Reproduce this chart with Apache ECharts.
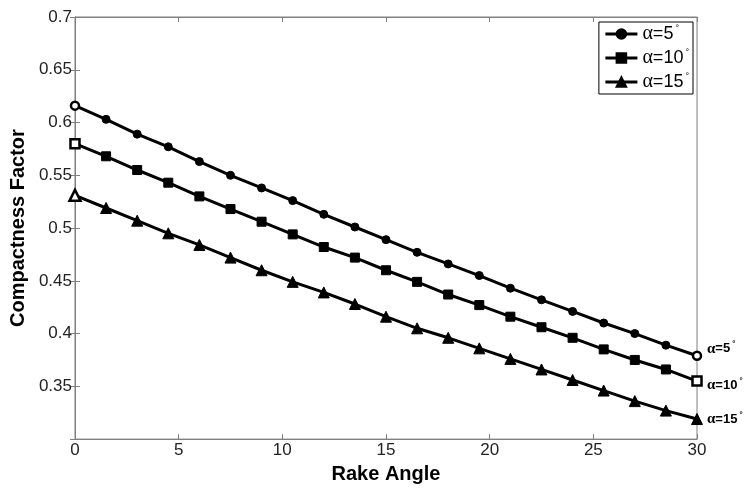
<!DOCTYPE html>
<html><head><meta charset="utf-8">
<script src="https://cdn.jsdelivr.net/npm/echarts@6/dist/echarts.min.js"></script>
<style>html,body{margin:0;padding:0;background:#fff}#c{width:744px;height:489px}</style>
</head><body><div id="c"></div>
<script>
const rakeAngles = [0,1.5,3,4.5,6,7.5,9,10.5,12,13.5,15,16.5,18,19.5,21,22.5,24,25.5,27,28.5,30];
const alpha5  = [0.616,0.603,0.589,0.577,0.563,0.550,0.538,0.526,0.513,0.501,0.489,0.477,0.466,0.455,0.443,0.432,0.421,0.410,0.400,0.389,0.379];
const alpha10 = [0.580,0.568,0.555,0.543,0.530,0.518,0.506,0.494,0.482,0.472,0.460,0.449,0.437,0.427,0.416,0.406,0.396,0.385,0.375,0.366,0.355];
const alpha15 = [0.531,0.519,0.507,0.495,0.484,0.472,0.460,0.449,0.439,0.428,0.416,0.405,0.396,0.386,0.376,0.366,0.356,0.346,0.336,0.327,0.319];
const seriesNames = ['α=5°','α=10°','α=15°'];
const xTicks = [0,5,10,15,20,25,30];
const yTicks = [0.35,0.4,0.45,0.5,0.55,0.6,0.65,0.7];

const font = 'Liberation Sans, Arial, sans-serif';
const serif = 'Liberation Serif, Times New Roman, serif';
const chart = echarts.init(document.getElementById('c'));
const symbols = ['circle','rect','triangle'];
const sizes = [8,9,11];
const allData = [alpha5, alpha10, alpha15];
const endNames = ['5','10','15'];
const endOffsets = [[0,-7],[0,4],[0,0]];
const hollowIdx = [[0,20],[0,20],[0]];

const series = allData.map((d,k)=>({
  name: seriesNames[k],
  type:'line',
  data: rakeAngles.map((x,i)=>{
    const hollow = hollowIdx[k].includes(i);
    return hollow ? {value:[x,d[i]], itemStyle:{color:'#fff', borderColor:'#000', borderWidth:2.5}} : [x,d[i]];
  }),
  symbol: symbols[k],
  symbolSize: sizes[k],
  showAllSymbol: true,
  lineStyle:{color:'#000', width:3},
  itemStyle:{color:'#000', borderColor:'#000', borderWidth:1},
  emphasis:{disabled:true},
  animation:false,
  z: 3,
  endLabel:{
    show:true,
    formatter: '{a|α}=' + endNames[k] + '{s|°}',
    color:'#000', fontFamily:font, fontSize:13, fontWeight:'bold',
    distance: 10,
    offset: endOffsets[k],
    rich:{
      a:{fontFamily:serif, fontSize:15, fontWeight:'bold', color:'#000'},
      s:{fontSize:8, verticalAlign:'top', padding:[0,0,9,2], color:'#000', fontWeight:'bold'}
    }
  }
}));

chart.setOption({
  animation:false,
  backgroundColor:'#fff',
  grid:{left:74, right:47, top:17, bottom:47, show:true, borderColor:'#808080', borderWidth:1},
  legend:{
    right: 51, top: 22,
    orient:'vertical',
    itemGap: 4,
    itemWidth: 32, itemHeight: 12,
    backgroundColor:'#fff',
    borderColor:'#000', borderWidth:1,
    padding:[2,4,2,5],
    lineStyle:{width:3, color:'#000'},
    textStyle:{color:'#000', fontFamily:font, fontSize:18, lineHeight:20,
      rich:{
        a:{fontFamily:serif, fontSize:20, color:'#000', lineHeight:20},
        s:{fontSize:9, verticalAlign:'top', padding:[0,0,11,2], color:'#000', lineHeight:20}
      }},
    formatter: n => { const m = n.match(/α=(\d+)°/); return '{a|α}=' + m[1] + '{s|°}'; },
    data: seriesNames
  },
  xAxis:[{
    type:'value', min:0, max:30, interval:5,
    name:'Rake Angle', nameLocation:'middle', nameGap:19,
    nameTextStyle:{color:'#000', fontFamily:font, fontSize:20, fontWeight:'bold', verticalAlign:'top'},
    axisLine:{show:true, lineStyle:{color:'#808080'}},
    axisTick:{show:true, inside:true, length:5, lineStyle:{color:'#808080'}},
    axisLabel:{color:'#222', fontFamily:font, fontSize:17, margin:3},
    splitLine:{show:false}
  },{
    type:'value', min:0, max:30, interval:5, position:'top',
    axisLine:{show:true, lineStyle:{color:'#808080'}},
    axisTick:{show:true, inside:true, length:5, lineStyle:{color:'#808080'}},
    axisLabel:{show:false}, splitLine:{show:false}
  }],
  yAxis:[{
    type:'value', min:0.3, max:0.7, interval:0.05,
    name:'Compactness Factor', nameLocation:'middle', nameGap:44,
    nameTextStyle:{color:'#000', fontFamily:font, fontSize:20, fontWeight:'bold'},
    axisLine:{show:true, lineStyle:{color:'#808080'}},
    axisTick:{show:true, inside:true, length:5, lineStyle:{color:'#808080'}},
    axisLabel:{color:'#222', fontFamily:font, fontSize:17, margin:3, showMinLabel:false,
      formatter: v => { const r = Math.round(v*100)/100; return yTicks.includes(r) ? String(r) : ''; }},
    splitLine:{show:false}
  },{
    type:'value', min:0.3, max:0.7, interval:0.05, position:'right',
    axisLine:{show:true, lineStyle:{color:'#808080'}},
    axisTick:{show:true, inside:true, length:5, lineStyle:{color:'#808080'}},
    axisLabel:{show:false}, splitLine:{show:false}
  }],
  series: series
});
</script></body></html>
